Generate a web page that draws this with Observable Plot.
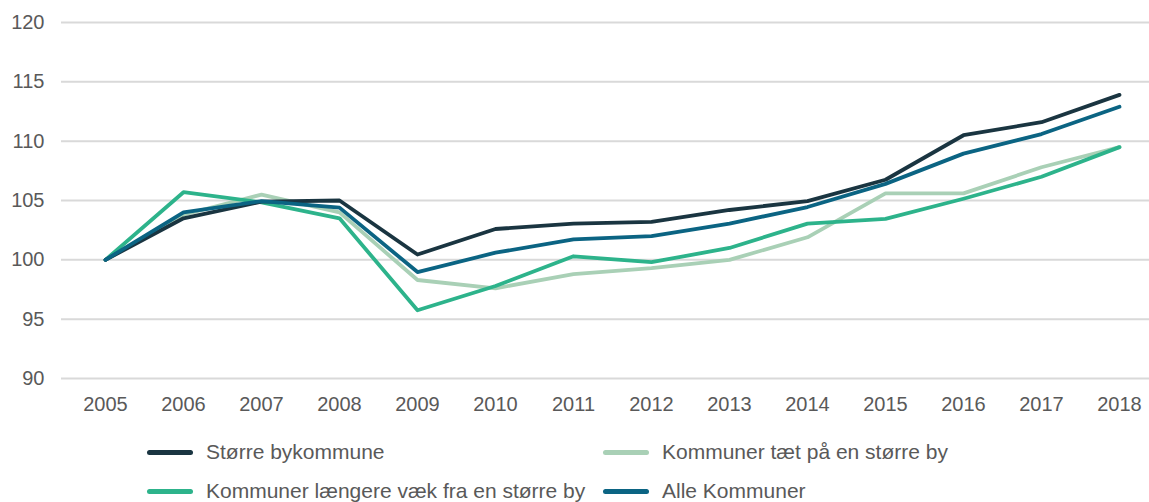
<!DOCTYPE html>
<html>
<head>
<meta charset="utf-8">
<script src="https://cdn.jsdelivr.net/npm/d3@7"></script>
<script src="https://cdn.jsdelivr.net/npm/@observablehq/plot@0.6"></script>
<style>
  html, body { margin: 0; padding: 0; background: #fff; }
  body { width: 1149px; height: 502px; overflow: hidden; font-family: "Liberation Sans", Arial, sans-serif; position: relative; }
  #chart svg { display: block; }
  .legend { position: absolute; left: 0; top: 0; width: 1149px; }
  .item { position: absolute; display: flex; align-items: center; font-size: 21px; color: #595959; white-space: nowrap; transform: translateY(-50%); }
  .sw { width: 46px; height: 5px; border-radius: 2.5px; margin-right: 13px; }
</style>
</head>
<body>
<div id="chart"></div>
<div class="legend" id="legend"></div>
<script>
const years = [2005, 2006, 2007, 2008, 2009, 2010, 2011, 2012, 2013, 2014, 2015, 2016, 2017, 2018];
const seriesNames = ["Større bykommune", "Kommuner tæt på en større by", "Kommuner længere væk fra en større by", "Alle Kommuner"];
const seriesColors = ["#1a3541", "#a9d0b6", "#2db38b", "#0b6483"];
const storre   = [100, 103.5, 104.9, 105.0, 100.45, 102.6, 103.05, 103.2, 104.2, 104.95, 106.75, 110.5, 111.6, 113.9];
const taet     = [100, 103.8, 105.5, 104.0, 98.3, 97.6, 98.8, 99.3, 100.0, 101.9, 105.6, 105.6, 107.8, 109.5];
const laengere = [100, 105.7, 104.85, 103.5, 95.75, 97.8, 100.3, 99.8, 101.0, 103.05, 103.45, 105.15, 107.0, 109.5];
const alle     = [100, 104.0, 104.95, 104.4, 98.97, 100.6, 101.73, 102.0, 103.05, 104.45, 106.4, 108.95, 110.6, 112.9];
const yTicks = [90, 95, 100, 105, 110, 115, 120];

const valuesBySeries = [storre, taet, laengere, alle];
const drawOrder = [1, 2, 0, 3];
const rows = [];
for (const si of drawOrder) {
  years.forEach((yr, i) => rows.push({series: seriesNames[si], year: yr, value: valuesBySeries[si][i]}));
}

const chart = Plot.plot({
  width: 1149,
  height: 425,
  marginLeft: 61,
  marginRight: 0,
  marginTop: 22,
  marginBottom: 47,
  style: {fontFamily: "'Liberation Sans', Arial, sans-serif", fontSize: "20px", color: "#595959", background: "#fff"},
  x: {type: "point", domain: years, padding: 0, insetLeft: 40, insetRight: 27, label: null},
  y: {domain: [90, 120], label: null},
  color: {domain: seriesNames, range: seriesColors},
  marks: [
    Plot.ruleY(yTicks, {stroke: "#d9d9d9", strokeWidth: 2}),
    Plot.line(rows, {x: "year", y: "value", z: "series", stroke: "series", strokeWidth: 3.8, strokeLinejoin: "round", strokeLinecap: "round"}),
    Plot.axisX({tickSize: 0, tickPadding: 18, fontSize: 20, tickFormat: d => String(d), fill: "#595959", label: null}),
    Plot.axisY({ticks: yTicks, tickSize: 0, tickPadding: 17, fontSize: 20, fill: "#595959", label: null})
  ]
});
document.getElementById("chart").appendChild(chart);

const legendPos = [
  {left: 147, top: 452},
  {left: 603, top: 452},
  {left: 147, top: 491},
  {left: 603, top: 491}
];
const legend = document.getElementById("legend");
seriesNames.forEach((name, i) => {
  const item = document.createElement("div");
  item.className = "item";
  item.style.left = legendPos[i].left + "px";
  item.style.top = legendPos[i].top + "px";
  const sw = document.createElement("span");
  sw.className = "sw";
  sw.style.background = seriesColors[i];
  const t = document.createElement("span");
  t.textContent = name;
  item.appendChild(sw);
  item.appendChild(t);
  legend.appendChild(item);
});
</script>
</body>
</html>
